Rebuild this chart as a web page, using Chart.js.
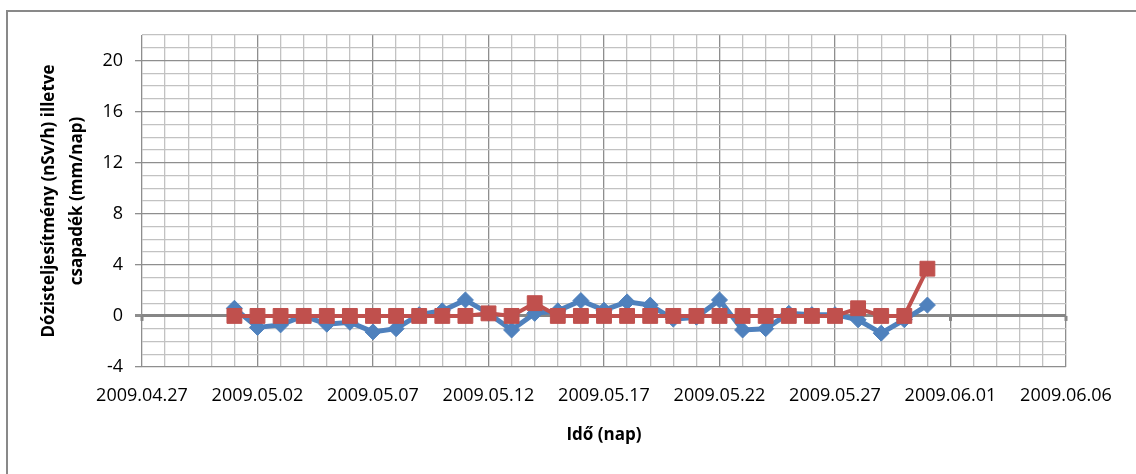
<!DOCTYPE html>
<html>
<head>
<meta charset="utf-8">
<script src="https://cdn.jsdelivr.net/npm/chart.js@4.4.1/dist/chart.umd.min.js"></script>
<style>
    html, body { margin: 0; padding: 0; background: #fff; }
    #wrap { position: relative; width: 1136px; height: 474px; overflow: hidden; }
    #frame {
        position: absolute; left: 6px; top: 10px; width: 1200px; height: 500px;
        border-left: 2px solid #898989; border-top: 2px solid #898989;
        pointer-events: none;
    }
</style>
</head>
<body>
<div id="wrap">
    <canvas id="dose-chart" width="1136" height="474"></canvas>
    <div id="frame"></div>
</div>
<script>
// Daily measurements, May 2009
const dates = [
    '2009.05.01', '2009.05.02', '2009.05.03', '2009.05.04', '2009.05.05',
    '2009.05.06', '2009.05.07', '2009.05.08', '2009.05.09', '2009.05.10',
    '2009.05.11', '2009.05.12', '2009.05.13', '2009.05.14', '2009.05.15',
    '2009.05.16', '2009.05.17', '2009.05.18', '2009.05.19', '2009.05.20',
    '2009.05.21', '2009.05.22', '2009.05.23', '2009.05.24', '2009.05.25',
    '2009.05.26', '2009.05.27', '2009.05.28', '2009.05.29', '2009.05.30',
    '2009.05.31',
];

// Dose rate (nSv/h)
const doseRate = [
    0.6, -0.9, -0.7, 0.0, -0.65, -0.5, -1.25, -1.0, 0.1, 0.4,
    1.25, 0.2, -1.1, 0.2, 0.4, 1.2, 0.45, 1.1, 0.85, -0.25,
    -0.1, 1.25, -1.1, -1.0, 0.2, 0.1, 0.1, -0.3, -1.35, -0.3,
    0.85,
];

// Precipitation (mm/day)
const rainfall = [
    0, 0, 0, 0, 0, 0, 0, 0, 0, 0,
    0, 0.2, 0, 1.0, 0, 0, 0, 0, 0, 0,
    0, 0, 0, 0, 0, 0, 0, 0.6, 0, 0,
    3.7,
];

// Axis ranges and tick labels
const xStart = '2009.04.27';
const xEnd = '2009.06.06';
const yTicks = [-4, 0, 4, 8, 12, 16, 20];
const yMin = -4;
const yMax = 22;

const DAY = 86400000;

function parseDate(s) {
    const [y, m, d] = s.split('.').map(Number);
    return Date.UTC(y, m - 1, d);
}

function formatDate(t) {
    const d = new Date(t);
    const mm = String(d.getUTCMonth() + 1).padStart(2, '0');
    const dd = String(d.getUTCDate()).padStart(2, '0');
    return `${d.getUTCFullYear()}.${mm}.${dd}`;
}

const base = parseDate(xStart);
const dayOf = s => Math.round((parseDate(s) - base) / DAY);

const toPoints = values => dates.map((s, i) => ({ x: dayOf(s), y: values[i] }));

const font = { family: "'Open Sans', sans-serif", size: 18 };

// small tick stubs hanging under the zero line, every 5 days
const zeroAxisTicks = {
    id: 'zeroAxisTicks',
    beforeDatasetsDraw(chart) {
        const { ctx, scales: { x, y } } = chart;
        const y0 = y.getPixelForValue(0);
        ctx.save();
        ctx.strokeStyle = '#868686';
        ctx.lineWidth = 3;
        for (let d = x.min; d <= x.max; d += 5) {
            const px = x.getPixelForValue(d);
            ctx.beginPath();
            ctx.moveTo(px, y0);
            ctx.lineTo(px, y0 + 5);
            ctx.stroke();
        }
        ctx.restore();
    }
};

new Chart('dose-chart', {
    type: 'line',
    data: {
        datasets: [
            {
                label: 'Csapadék',
                data: toPoints(rainfall),
                borderColor: '#C0504D',
                backgroundColor: '#C0504D',
                borderWidth: 4,
                pointStyle: 'rect',
                pointRadius: 10.5,
                pointBorderWidth: 1,
                order: 0,
            },
            {
                label: 'Dózisteljesítmény',
                data: toPoints(doseRate),
                borderColor: '#4F81BD',
                backgroundColor: '#4F81BD',
                borderWidth: 5,
                pointStyle: 'rectRot',
                pointRadius: 8,
                pointBorderWidth: 1,
                order: 1,
            },
        ]
    },
    options: {
        responsive: false,
        animation: false,
        layout: {
            padding: { top: 35, right: 70, left: 0, bottom: 0 }
        },
        plugins: {
            legend: { display: false },
            tooltip: { enabled: false },
        },
        scales: {
            x: {
                type: 'linear',
                min: 0,
                max: dayOf(xEnd),
                afterFit: scale => { scale.height = 107; },
                ticks: {
                    stepSize: 1,
                    autoSkip: false,
                    maxRotation: 0,
                    padding: 18,
                    color: '#000',
                    font: font,
                    callback: v => v % 5 === 0 ? formatDate(base + v * DAY) : '',
                },
                grid: {
                    drawTicks: false,
                    color: ctx => ctx.tick && ctx.tick.value % 5 === 0 ? '#8e8e8e' : '#c2c2c2',
                    lineWidth: 1.3,
                },
                border: { display: false },
                title: {
                    display: true,
                    text: 'Idő (nap)',
                    color: '#000',
                    font: { family: font.family, size: 17, weight: 'bold' },
                    padding: { top: 0, bottom: 29 },
                },
            },
            y: {
                min: yMin,
                max: yMax,
                afterFit: scale => { scale.width = 142; },
                ticks: {
                    stepSize: 1,
                    autoSkip: false,
                    padding: 12,
                    color: '#000',
                    font: font,
                    callback: v => yTicks.includes(v) ? String(v) : '',
                },
                grid: {
                    tickLength: 7,
                    tickColor: ctx => ctx.tick && yTicks.includes(ctx.tick.value) ? '#8e8e8e' : 'rgba(0,0,0,0)',
                    color: ctx => {
                        if (!ctx.tick) return '#c2c2c2';
                        if (ctx.tick.value === 0) return '#868686';
                        return yTicks.includes(ctx.tick.value) ? '#8e8e8e' : '#c2c2c2';
                    },
                    lineWidth: ctx => ctx.tick && ctx.tick.value === 0 ? 3 : 1.3,
                },
                border: { display: false },
                title: {
                    display: true,
                    text: ['Dózisteljesítmény (nSv/h) illetve', 'csapadék (mm/nap)'],
                    color: '#000',
                    font: { family: font.family, size: 17, weight: 'bold', lineHeight: '28px' },
                    padding: { top: 35, bottom: 0 },
                },
            },
        },
    },
    plugins: [zeroAxisTicks],
});
</script>
</body>
</html>
